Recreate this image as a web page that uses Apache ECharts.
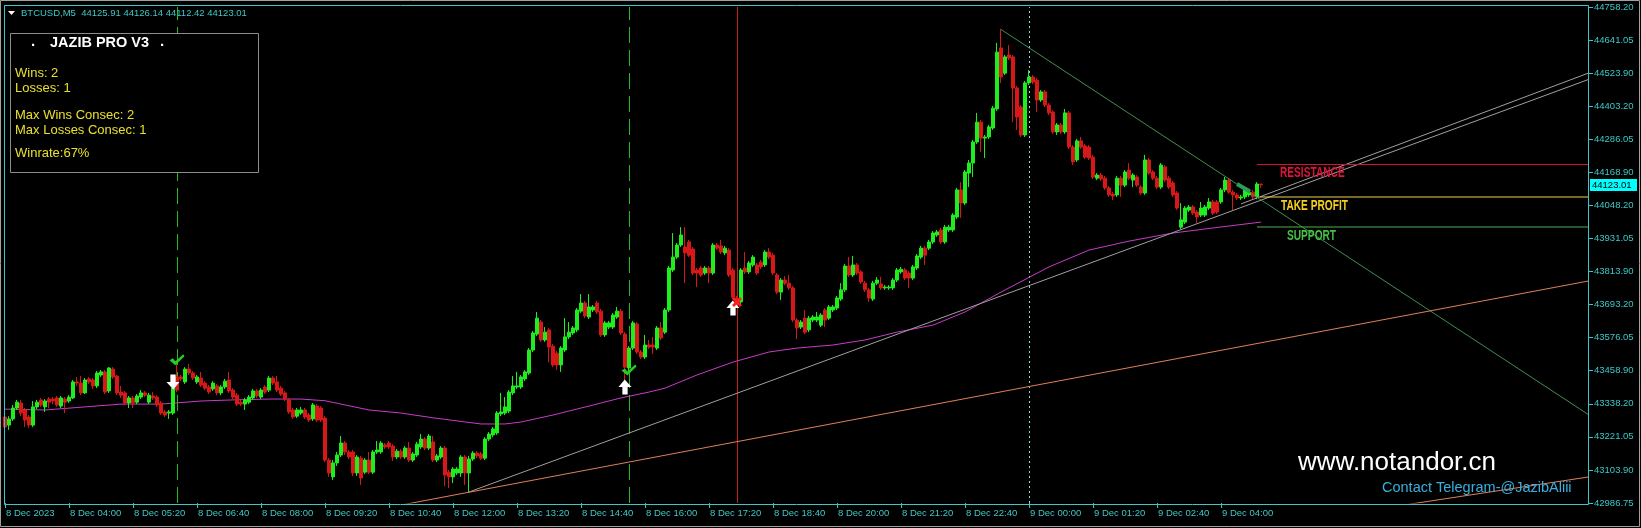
<!DOCTYPE html>
<html><head><meta charset="utf-8">
<script src="https://cdn.jsdelivr.net/npm/echarts@6/dist/echarts.min.js"></script>
<style>html,body{margin:0;padding:0;background:#000;overflow:hidden}#c{width:1641px;height:528px}</style>
</head><body><div id="c"></div>
<script>
// ---------- DATA ----------
const xTickLabels = ['8 Dec 2023','8 Dec 04:00','8 Dec 05:20','8 Dec 06:40','8 Dec 08:00','8 Dec 09:20','8 Dec 10:40','8 Dec 12:00','8 Dec 13:20','8 Dec 14:40','8 Dec 16:00','8 Dec 17:20','8 Dec 18:40','8 Dec 20:00','8 Dec 21:20','8 Dec 22:40','9 Dec 00:00','9 Dec 01:20','9 Dec 02:40','9 Dec 04:00'];
const yTickLabels = ['42986.75','43103.90','43221.05','43338.20','43458.90','43576.05','43693.20','43813.90','43931.05','44048.20','44168.90','44286.05','44403.20','44523.90','44641.05','44758.20'];

const opens = [
43294,43265,43287,43326,43344,43319,43294,43265,43330,43355,
43330,43358,43358,43362,43333,43358,43351,43362,43419,43415,
43380,43430,43426,43405,43444,43455,43387,43465,43440,43383,
43380,43344,43362,43347,43365,43380,43347,43369,43365,43344,
43312,43308,43308,43437,43437,43419,43465,43451,43419,43433,
43415,43401,43394,43405,43380,43401,43426,43390,43372,43347,
43340,43347,43362,43387,43365,43401,43390,43433,43419,43397,
43380,43355,43319,43297,43308,43319,43301,43287,43333,43326,
43290,43140,43080,43130,43158,43201,43169,43169,43094,43147,
43097,43140,43097,43169,43169,43194,43201,43190,43151,43172,
43151,43183,43140,43158,43187,43215,43183,43205,43140,43151,
43183,43097,43080,43094,43094,43151,43094,43144,43165,43162,
43147,43215,43230,43237,43305,43308,43315,43380,43401,43401,
43430,43451,43533,43590,43633,43569,43605,43547,43522,43480,
43533,43580,43594,43605,43672,43701,43651,43676,43701,43672,
43587,43615,43615,43651,43672,43590,43469,43540,43626,43526,
43508,43551,43551,43540,43612,43597,43676,43819,43865,43908,
43901,43919,43894,43819,43826,43808,43826,43808,43908,43905,
43880,43890,43819,43719,43705,43826,43812,43837,43837,43847,
43837,43883,43872,43801,43740,43783,43772,43755,43640,43615,
43647,43605,43640,43640,43622,43676,43647,43676,43683,43715,
43748,43833,43801,43837,43812,43772,43748,43715,43772,43769,
43755,43755,43755,43783,43812,43819,43808,43790,43826,43865,
43897,43897,43919,43944,43962,43919,43962,43962,44008,44105,
44058,44165,44201,44276,44347,44290,44294,44326,44394,44612,
44522,44587,44580,44469,44401,44301,44487,44508,44497,44426,
44455,44408,44383,44312,44337,44312,44380,44258,44212,44280,
44262,44258,44222,44147,44158,44147,44112,44090,44087,44147,
44122,44176,44140,44151,44115,44094,44212,44169,44147,44115,
44187,44147,44130,44094,43972,43990,44033,44044,44026,44015,
44015,44040,44062,44062,44062,44105,44140,44097,44087,44076,
44080,44087,44097,44080,44125.91];
const closes = [
43258,43287,43326,43347,43308,43283,43265,43330,43347,43337,
43351,43347,43351,43337,43362,43347,43365,43419,43415,43380,
43426,43419,43405,43451,43455,43383,43469,43437,43380,43372,
43344,43362,43344,43369,43380,43372,43372,43362,43337,43308,
43301,43312,43397,43390,43430,43465,43451,43433,43437,43408,
43397,43383,43415,43380,43401,43422,43387,43365,43340,43340,
43355,43365,43387,43369,43390,43383,43433,43415,43390,43376,
43358,43312,43294,43319,43319,43294,43283,43337,43283,43283,
43140,43094,43130,43158,43201,43169,43151,43094,43151,43076,
43140,43097,43169,43176,43201,43187,43187,43151,43172,43151,
43183,43140,43162,43197,43215,43183,43226,43140,43155,43183,
43087,43080,43108,43108,43151,43094,43144,43165,43155,43147,
43215,43233,43251,43308,43312,43330,43383,43405,43405,43437,
43455,43533,43594,43647,43569,43597,43544,43480,43480,43540,
43580,43597,43612,43676,43701,43655,43687,43687,43669,43587,
43630,43630,43658,43672,43594,43472,43540,43630,43526,43508,
43551,43544,43544,43612,43576,43676,43826,43865,43908,43944,
43880,43872,43808,43808,43801,43826,43808,43908,43897,43883,
43897,43801,43722,43701,43819,43812,43844,43865,43808,43830,
43883,43865,43808,43740,43783,43772,43755,43640,43612,43633,
43597,43647,43651,43651,43658,43640,43687,43687,43719,43748,
43833,43801,43837,43808,43776,43748,43719,43772,43783,43755,
43758,43758,43783,43819,43822,43790,43790,43830,43869,43897,
43872,43919,43951,43955,43919,43972,43972,44015,44105,44058,
44169,44201,44276,44347,44290,44294,44330,44397,44597,44508,
44580,44576,44469,44365,44301,44487,44508,44490,44426,44455,
44408,44380,44312,44337,44312,44380,44258,44205,44280,44258,
44222,44219,44151,44158,44144,44112,44087,44083,44147,44122,
44169,44147,44158,44122,44094,44212,44165,44147,44115,44194,
44140,44115,44087,44040,43998,44040,44044,44022,44008,44040,
44044,44062,44022,44026,44105,44140,44097,44087,44076,44080,
44105,44097,44080,44126,44123.01];
const lows = [
43248,43248,43280,43319,43297,43258,43255,43258,43322,43330,
43312,43326,43340,43330,43326,43308,43344,43358,43405,43372,
43376,43412,43394,43397,43437,43376,43380,43430,43372,43362,
43337,43326,43326,43340,43358,43365,43340,43355,43330,43301,
43294,43287,43301,43383,43422,43412,43444,43426,43412,43401,
43390,43376,43387,43372,43372,43394,43380,43358,43333,43333,
43319,43340,43355,43362,43358,43376,43383,43408,43383,43369,
43351,43305,43287,43290,43301,43287,43276,43280,43276,43276,
43133,43080,43069,43119,43151,43158,43144,43083,43083,43051,
43090,43090,43090,43162,43162,43180,43180,43137,43144,43144,
43144,43133,43133,43151,43180,43176,43176,43133,43133,43144,
43047,43040,43058,43087,43080,43051,43026,43137,43147,43140,
43140,43208,43222,43230,43297,43301,43308,43372,43394,43394,
43422,43444,43526,43583,43562,43562,43490,43472,43462,43455,
43526,43572,43587,43597,43665,43647,43644,43669,43662,43580,
43580,43608,43608,43644,43587,43426,43455,43533,43519,43501,
43501,43537,43519,43533,43569,43590,43669,43812,43858,43901,
43772,43865,43801,43758,43794,43801,43772,43801,43890,43876,
43872,43794,43715,43694,43697,43805,43805,43830,43801,43822,
43830,43858,43801,43733,43712,43765,43748,43633,43572,43608,
43590,43597,43633,43633,43615,43615,43640,43669,43676,43708,
43740,43794,43794,43801,43769,43740,43705,43708,43765,43748,
43748,43748,43748,43776,43805,43783,43755,43783,43819,43858,
43837,43890,43912,43937,43912,43912,43955,43955,44001,44005,
44051,44115,44151,44269,44240,44219,44287,44319,44387,44487,
44515,44569,44347,44319,44294,44294,44480,44483,44383,44419,
44401,44372,44305,44301,44305,44305,44251,44194,44205,44251,
44215,44212,44144,44140,44137,44105,44080,44069,44080,44080,
44115,44140,44115,44115,44087,44087,44158,44140,44108,44108,
44133,44108,44080,44033,43965,43983,44026,44015,43987,44008,
44008,44033,44015,44019,44055,44097,44090,44033,44069,44069,
44072,44080,44072,44072,44112.42];
const highs = [
43319,43297,43337,43355,43355,43326,43301,43351,43355,43362,
43358,43365,43365,43369,43369,43365,43372,43426,43437,43440,
43433,43437,43433,43458,43462,43462,43472,43472,43444,43405,
43387,43369,43369,43376,43390,43387,43380,43383,43372,43351,
43319,43319,43405,43487,43444,43472,43483,43458,43444,43455,
43422,43408,43422,43412,43408,43430,43455,43397,43380,43355,
43362,43372,43394,43394,43397,43408,43440,43440,43440,43405,
43387,43362,43326,43326,43330,43326,43308,43344,43340,43333,
43297,43147,43140,43169,43226,43208,43176,43176,43158,43155,
43147,43169,43176,43208,43208,43201,43208,43197,43180,43180,
43190,43205,43169,43205,43233,43222,43233,43226,43162,43190,
43190,43105,43115,43115,43158,43158,43155,43172,43172,43169,
43222,43240,43258,43315,43380,43365,43390,43440,43455,43444,
43462,43540,43601,43669,43640,43615,43612,43555,43530,43547,
43647,43633,43619,43683,43733,43708,43733,43694,43708,43680,
43637,43637,43665,43687,43680,43597,43547,43637,43633,43533,
43587,43569,43580,43619,43633,43683,43833,43951,43915,43972,
43972,43926,43901,43826,43833,43833,43833,43915,43915,43926,
43905,43897,43826,43726,43826,43883,43851,43872,43844,43855,
43890,43897,43880,43808,43790,43797,43801,43762,43647,43640,
43676,43655,43658,43669,43665,43683,43694,43694,43726,43772,
43840,43865,43869,43844,43819,43780,43755,43780,43794,43794,
43765,43765,43790,43826,43830,43826,43815,43837,43876,43905,
43905,43926,43958,43962,43969,43980,43980,44022,44112,44133,
44176,44212,44283,44380,44355,44301,44337,44405,44630,44680,
44587,44622,44587,44476,44408,44494,44533,44515,44505,44462,
44462,44415,44390,44344,44344,44394,44387,44265,44287,44294,
44269,44265,44230,44165,44165,44155,44119,44097,44155,44155,
44176,44201,44165,44158,44122,44230,44219,44176,44155,44201,
44194,44155,44137,44101,44058,44047,44051,44051,44033,44062,
44051,44076,44069,44069,44112,44151,44147,44105,44094,44087,
44112,44105,44105,44133,44126.14];

// moving average, read at anchor bars
const maBars   = [0,10,20,29,39,49,57,66,74,80,91,99,107,119,125,129,137,146,154,161,165,173,182,191,198,207,215,223,232,240,249,261,271,281,292,302,314];
const maValues = [43322,43319,43330,43340,43340,43351,43355,43358,43358,43352,43319,43308,43291,43269,43269,43276,43301,43333,43362,43383,43397,43444,43490,43526,43540,43551,43569,43597,43622,43669,43740,43830,43890,43922,43951,43969,43990];

// trend lines [bar, price]
const trendGray1   = [[116, 43026], [396, 44500]];
const trendGray2   = [[309, 44055], [396, 44523]];
const trendGreen   = [[249, 44678], [396, 43301]];
const trendOrange1 = [[97, 42974], [396, 43780]];
const trendOrange2 = [[350, 42980], [396, 43080]];
const signalStroke = [[308, 44126], [311.25, 44099]];

// levels
const levelNames  = ['RESISTANCE', 'TAKE PROFIT', 'SUPPORT'];
const levelPrices = [44195.7, 44079.6, 43972.5];
const levelStart  = [313, 313.75, 313];

// signals
const buySignalBars  = [43, 156];
const sellSignalBars = [183];
const daySeparatorBars = [256];
const upArrows   = [[155, 43401], [182, 43683]];
const downArrows = [[42, 43419]];
const winChecks  = [[43, 43498], [156, 43462]];
const lossMarks  = [[183, 43705]];
const lastQuote  = {name: 'BTCUSD,M5', o: '44125.91', h: '44126.14', l: '44112.42', c: '44123.01'};
const lastPrice  = 44123.01;
const statsTitle = 'JAZIB PRO V3';
const statsLines = ['Wins: 2', 'Losses: 1', 'Max Wins Consec: 2', 'Max Losses Consec: 1', 'Winrate:67%'];
const BAR_SLOTS = 397;

// ---------- CHART ----------
const AX = '#3cc8c8';
const FONT = '"Liberation Sans", Arial, sans-serif';
const chart = echarts.init(document.getElementById('c'), null, {renderer: 'canvas', width: 1641, height: 528});
const candleData = opens.map((o, i) => [i, o, closes[i], lows[i], highs[i]]);
const slots = Array.from({length: BAR_SLOTS}, (_, k) => String(k));
const tickShown = (idx) => idx % 16 === 0 && idx / 16 < xTickLabels.length;
const yMin = parseFloat(yTickLabels[0]), yMax = parseFloat(yTickLabels[yTickLabels.length - 1]);

function lineSeries(data, color, width, z, type) {
  return {type: 'line', data, xAxisIndex: 0, yAxisIndex: 0, symbol: 'none', silent: true, z: z || 3,
    lineStyle: {color, width: width || 1, type: type || 'solid'}, animation: false};
}
const vLines = [];
buySignalBars.forEach(b => vLines.push({xAxis: b, lineStyle: {color: '#22bb22', width: 1, type: [16, 7]}}));
sellSignalBars.forEach(b => vLines.push({xAxis: b, lineStyle: {color: '#c81e1e', width: 1, type: 'solid'}}));
daySeparatorBars.forEach(b => vLines.push({xAxis: b, lineStyle: {color: '#8fd8d8', width: 1, type: [2, 3]}}));

const levelColors = ['#d2143c', '#f0d24a', '#4fb04f'];
const levelTextColors = ['#e0143c', '#f5d020', '#46c046'];
const series = [
  {type: 'candlestick', data: candleData, xAxisIndex: 0, yAxisIndex: 0, barWidth: 3, z: 4, silent: true,
   itemStyle: {color: '#1eee1e', color0: '#d81818', borderColor: '#1eee1e', borderColor0: '#d81818', borderWidth: 1},
   markLine: {symbol: ['none', 'none'], silent: true, label: {show: false}, animation: false, data: vLines, z: 1}},
  lineSeries(maBars.map((b, k) => [b, maValues[k]]), '#c83cc8', 1, 3),
  lineSeries(trendGray1, '#a0a0a0', 1, 5),
  lineSeries(trendGray2, '#a0a0a0', 1, 5),
  lineSeries(trendGreen, '#3f8f4f', 1, 5),
  lineSeries(trendOrange1, '#e0805a', 1, 5),
  lineSeries(trendOrange2, '#e0805a', 1, 5),
  lineSeries(signalStroke, '#2f9a5a', 4, 6),
];
levelPrices.forEach((p, k) => series.push(lineSeries([[levelStart[k], p], [BAR_SLOTS - 1, p]], levelColors[k], 1, 5)));
const arrowPath = 'path://M6,0 L12.5,7 L8.8,7 L8.8,14 L3.7,14 L3.7,7 L0,7 Z';
const sc = {type: 'scatter', z: 8, silent: true, xAxisIndex: 0, yAxisIndex: 0};
series.push(Object.assign({}, sc, {data: upArrows, symbol: arrowPath, symbolSize: [13, 15], itemStyle: {color: '#ffffff', opacity: 1}}));
series.push(Object.assign({}, sc, {data: downArrows, symbol: arrowPath, symbolRotate: 180, symbolSize: [13, 15], itemStyle: {color: '#ffffff', opacity: 1}}));
series.push(Object.assign({}, sc, {data: winChecks, symbol: 'path://M0,6 L3,4 L5,7 L12,0 L13,2 L5,11 Z', symbolSize: [15, 11], itemStyle: {color: '#22d022', opacity: 1}}));
series.push(Object.assign({}, sc, {data: lossMarks, symbol: 'path://M0,2 L2,0 L5,3 L8,0 L10,2 L7,5 L10,8 L8,10 L5,7 L2,10 L0,8 L3,5 Z', symbolSize: [10, 10], itemStyle: {color: '#ff2020', opacity: 1}}));

const option = {
  backgroundColor: '#000000',
  animation: false,
  grid: {left: 5, top: 7, width: (BAR_SLOTS - 1) * 4, height: 496, containLabel: false, outerBoundsMode: 'none', show: false},
  xAxis: [
    {type: 'value', min: 0, max: BAR_SLOTS - 1, show: false, position: 'bottom', gridIndex: 0},
    {type: 'category', data: slots, boundaryGap: false, position: 'bottom', gridIndex: 0,
     axisLine: {show: false},
     axisTick: {show: true, interval: (i) => tickShown(i), length: 5, lineStyle: {color: AX}},
     axisLabel: {show: true, interval: (i) => tickShown(i), formatter: (v, i) => xTickLabels[i / 16] || '',
       align: 'left', margin: 5, color: AX, fontSize: 9.5, fontFamily: FONT, padding: [0, 0, 0, 1]},
     splitLine: {show: false}}
  ],
  yAxis: [
    {type: 'value', min: yMin, max: yMax, show: false, position: 'right', gridIndex: 0, splitLine: {show: false}},
    {type: 'value', min: 0, max: yTickLabels.length - 1, interval: 1, position: 'right', gridIndex: 0,
     axisLine: {show: false}, splitLine: {show: false},
     axisTick: {show: true, length: 4, lineStyle: {color: AX}},
     axisLabel: {show: true, margin: 5, color: AX, fontSize: 9.5, fontFamily: FONT, formatter: (v) => yTickLabels[v] || ''}}
  ],
  series
};
chart.setOption(option);

// ---------- OVERLAY TEXT / FRAME ----------
const px = (b, p) => chart.convertToPixel({xAxisIndex: 0, yAxisIndex: 0}, [b, p]);
const g = [];
g.push({type: 'rect', shape: {x: 0.5, y: 0.5, width: 1639, height: 526}, style: {fill: 'none', stroke: '#a0a0a0', lineWidth: 1}, silent: true, z: 50});
g.push({type: 'rect', shape: {x: 4.5, y: 5.5, width: 1584, height: 499}, style: {fill: 'none', stroke: AX, lineWidth: 1}, silent: true, z: 50});
g.push({type: 'polygon', shape: {points: [[8, 11], [15, 11], [11.5, 15]]}, style: {fill: '#ffffff'}, silent: true, z: 50});
g.push({type: 'text', x: 21, y: 13, style: {text: lastQuote.name + '  ' + [lastQuote.o, lastQuote.h, lastQuote.l, lastQuote.c].join(' '), fill: AX, font: '9.5px ' + FONT, verticalAlign: 'middle'}, silent: true, z: 50});
// stats panel
g.push({type: 'rect', shape: {x: 10.5, y: 33.5, width: 248, height: 139}, style: {fill: '#000000', stroke: '#8c8c8c', lineWidth: 1}, silent: true, z: 60});
g.push({type: 'text', x: 31, y: 42, style: {text: '.', fill: '#ffffff', font: 'bold 15px ' + FONT, verticalAlign: 'middle'}, silent: true, z: 61});
g.push({type: 'text', x: 50, y: 43, style: {text: statsTitle, fill: '#ffffff', font: 'bold 14.5px ' + FONT, verticalAlign: 'middle'}, silent: true, z: 61});
g.push({type: 'text', x: 160, y: 42, style: {text: '.', fill: '#ffffff', font: 'bold 15px ' + FONT, verticalAlign: 'middle'}, silent: true, z: 61});
const statY = [73, 88, 115, 130, 153];
statsLines.forEach((t, k) => g.push({type: 'text', x: 15, y: statY[k], style: {text: t, fill: '#e8e02c', font: '13px ' + FONT, verticalAlign: 'middle'}, silent: true, z: 61}));
// level labels
const levelLabelBar = [318.75, 319, 320.5];
levelNames.forEach((n, k) => {
  const p = px(levelLabelBar[k], levelPrices[k]);
  g.push({type: 'text', x: p[0], y: p[1] + 9, scaleX: 0.7, style: {text: n, fill: levelTextColors[k], font: 'bold 14.5px ' + FONT, verticalAlign: 'middle'}, silent: true, z: 40});
});
// current price tag
const lp = px(0, lastPrice);
g.push({type: 'rect', shape: {x: 1590, y: Math.round(lp[1]) - 6, width: 47, height: 12}, style: {fill: '#00ffff'}, silent: true, z: 55});
g.push({type: 'text', x: 1592, y: Math.round(lp[1]), style: {text: lastPrice.toFixed(2), fill: '#000000', font: '9.5px ' + FONT, verticalAlign: 'middle'}, silent: true, z: 56});
// watermark
g.push({type: 'text', x: 1298, y: 463, style: {text: 'www.notandor.cn', fill: '#ffffff', font: '26px ' + FONT, verticalAlign: 'middle'}, silent: true, z: 45});
g.push({type: 'text', x: 1382, y: 488, style: {text: 'Contact Telegram-@JazibAliii', fill: '#38b0e0', font: '14.5px ' + FONT, verticalAlign: 'middle'}, silent: true, z: 45});
chart.setOption({graphic: g});
</script>
</body></html>
